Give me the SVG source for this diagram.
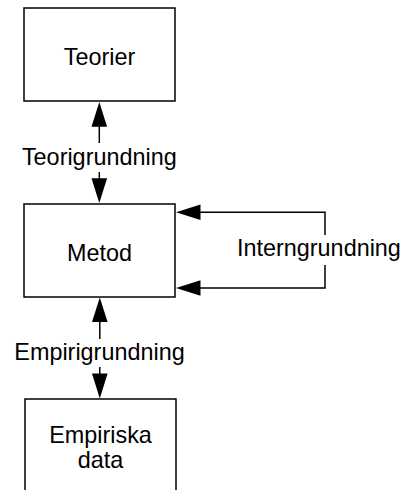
<svg xmlns="http://www.w3.org/2000/svg" width="404" height="490" viewBox="0 0 404 490">
<defs>
<style>
.box{fill:#fff;stroke:#000;stroke-width:1.5}
.ln{fill:none;stroke:#000;stroke-width:1.5}
.ah{fill:#000;stroke:none}
text{font-family:"Liberation Sans",Arial,sans-serif;font-size:23.4px;fill:#000}
.c{text-anchor:middle}
</style>
</defs>
<rect width="404" height="490" fill="#fff"/>
<g id="teorier">
<rect class="box" x="24" y="8" width="151" height="93"/>
<text class="c" x="99.5" y="65">Teorier</text>
</g>
<g id="metod">
<rect class="box" x="24" y="204" width="151" height="93"/>
<text class="c" x="99.5" y="261">Metod</text>
</g>
<g id="empiriska">
<rect class="box" x="25" y="399" width="151" height="100"/>
<text class="c" x="100.5" y="443">Empiriska</text>
<text class="c" x="100.5" y="468">data</text>
</g>
<g id="connectors">
<g id="teorigrundning">
<line class="ln" x1="99.3" y1="125" x2="99.3" y2="143"/>
<polygon class="ah" points="99.3,102 91.5,126.7 107.1,126.7"/>
<line class="ln" x1="99.3" y1="172" x2="99.3" y2="180"/>
<polygon class="ah" points="99.3,203 91.5,178.3 107.1,178.3"/>
<text class="c" x="99.3" y="165">Teorigrundning</text>
</g>
<g id="empirigrundning">
<line class="ln" x1="99.8" y1="320" x2="99.8" y2="339"/>
<polygon class="ah" points="99.8,297.5 92,322 107.6,322"/>
<line class="ln" x1="99.8" y1="367" x2="99.8" y2="375"/>
<polygon class="ah" points="99.8,398.5 92,373.5 107.6,373.5"/>
<text class="c" x="99.5" y="360">Empirigrundning</text>
</g>
<g id="interngrundning">
<polyline class="ln" points="198,212.3 325,212.3 325,235"/>
<polyline class="ln" points="198,288 325,288 325,265"/>
<polygon class="ah" points="176,212.3 200.5,204.5 200.5,220.1"/>
<polygon class="ah" points="176,288 200.5,280.2 200.5,295.8"/>
<text x="237" y="256">Interngrundning</text>
</g>
</g>
</svg>
